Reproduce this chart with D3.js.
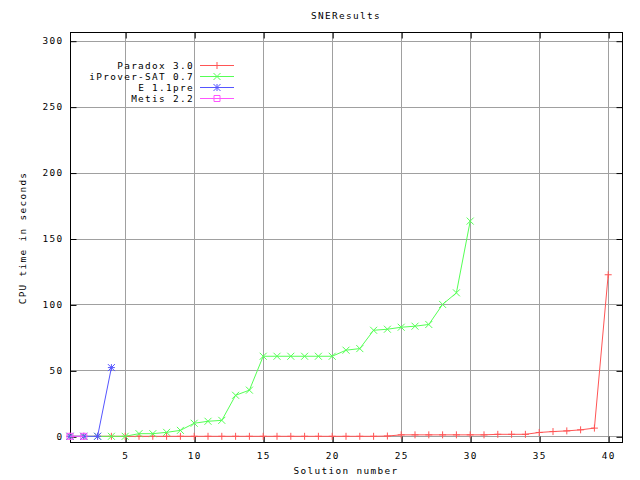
<!DOCTYPE html>
<html><head><meta charset="utf-8">
<script src="https://cdn.jsdelivr.net/npm/d3@7"></script>
<style>
body{margin:0;background:#fff;}
text{font-family:"DejaVu Sans Mono","Liberation Mono",monospace;font-size:9.4px;letter-spacing:1.34px;fill:#000;}
</style></head>
<body><svg id="c" width="640" height="480"></svg>
<script>
const title = "SNEResults";
const xLabel = "Solution number";
const yLabel = "CPU time in seconds";
const xTicks = [5,10,15,20,25,30,35,40];
const yTicks = [0,50,100,150,200,250,300];
const seriesNames = ["Paradox 3.0","iProver-SAT 0.7","E 1.1pre","Metis 2.2"];
const seriesColors = ["#ff5555","#55ff55","#5555ff","#ff55ff"];
const seriesMarkers = ["plus","cross","star","square"];
const paradox = [0,0,0,0,0,0,0,0,0,0,0,0,0,0,0,0,0,0,0,0,0,0,0,0.2,1.1,1.1,1.1,1.1,1.1,1.1,1.1,1.5,1.5,1.5,2.9,3.6,4.1,4.9,6.2,122.5];
const iprover = [0,0,0,0,0,2,2,3,4.5,9.9,11.4,12.1,31.1,35,60.7,60.7,60.7,60.7,60.7,60.7,65.3,66.5,80.4,81.2,82.7,83.5,84.8,100,108.8,163.2];
const eprover = [0,0,0,52.1];
const metis = [0,0];
const allSeries = [paradox, iprover, eprover, metis];

const svg = d3.select("#c");
const L=70,R=622,T=32,B=442;
const x = d3.scaleLinear().domain([1,41]).range([L,R]);
const y = d3.scaleLinear().domain([0,300]).range([436.3,40.7]);

// grid
const g = svg.append("g");
g.selectAll("line.gx").data(xTicks).enter().append("line")
 .attr("x1",d=>Math.round(x(d))+0.5).attr("x2",d=>Math.round(x(d))+0.5)
 .attr("y1",T).attr("y2",B).attr("stroke","#a0a0a0").attr("stroke-width",1);
g.selectAll("line.gy").data(yTicks).enter().append("line")
 .attr("y1",d=>Math.round(y(d))+0.5).attr("y2",d=>Math.round(y(d))+0.5)
 .attr("x1",L).attr("x2",R).attr("stroke","#a0a0a0").attr("stroke-width",1);

// axes
const ax = svg.append("g").attr("transform",`translate(0,${B+0.5})`)
 .call(d3.axisBottom(x).tickValues(xTicks).tickSizeInner(-6).tickSizeOuter(0).tickPadding(10));
const axT = svg.append("g").attr("transform",`translate(0,${T+0.5})`)
 .call(d3.axisTop(x).tickValues(xTicks).tickSizeInner(-6).tickSizeOuter(0).tickFormat(""));
const ay = svg.append("g").attr("transform",`translate(${L+0.5},0)`)
 .call(d3.axisLeft(y).tickValues(yTicks).tickSizeInner(-6).tickSizeOuter(0).tickPadding(7));
const ayR = svg.append("g").attr("transform",`translate(${R+0.5},0)`)
 .call(d3.axisRight(y).tickValues(yTicks).tickSizeInner(-6).tickSizeOuter(0).tickFormat(""));
[ax,axT,ay,ayR].forEach(a=>{
  a.select(".domain").remove();
  a.selectAll("line").attr("stroke","#000");
  a.attr("font-family",null).attr("font-size",null);
});
ax.selectAll(".tick line").attr("transform","translate(0.5,0)");
axT.selectAll(".tick line").attr("transform","translate(0.5,0)");
ay.selectAll(".tick line").attr("transform","translate(0,0.5)");
ayR.selectAll(".tick line").attr("transform","translate(0,0.5)");
ay.selectAll("text").attr("dy","0.35em");

// frame
svg.append("rect").attr("x",L+0.5).attr("y",T+0.5).attr("width",R-L).attr("height",B-T)
 .attr("fill","none").attr("stroke","#000").attr("stroke-width",1);

// markers
function marker(sel, type, cx, cy, color){
  const s=3.5;
  const p = sel.append("path").attr("fill","none").attr("stroke",color).attr("stroke-width",1);
  let d="";
  if(type==="plus"||type==="star") d+=`M${cx-s},${cy}H${cx+s}M${cx},${cy-s}V${cy+s}`;
  if(type==="cross"||type==="star") d+=`M${cx-s},${cy-s}L${cx+s},${cy+s}M${cx-s},${cy+s}L${cx+s},${cy-s}`;
  if(type==="square") d+=`M${cx-3},${cy-3}H${cx+3}V${cy+3}H${cx-3}Z`;
  p.attr("d",d);
}

const line = d3.line().x((d,i)=>x(i+1)).y(d=>y(d));
allSeries.forEach((s,k)=>{
  const gs = svg.append("g");
  gs.append("path").datum(s).attr("d",line).attr("fill","none")
    .attr("stroke",seriesColors[k]).attr("stroke-width",1);
  s.forEach((v,i)=>marker(gs,seriesMarkers[k],x(i+1),y(v),seriesColors[k]));
});

// legend
const lg = svg.append("g");
seriesNames.forEach((n,k)=>{
  const ly = 65.5 + k*11;
  lg.append("text").attr("x",194).attr("y",ly).attr("dy","0.35em").attr("text-anchor","end").text(n);
  lg.append("line").attr("x1",200).attr("x2",234).attr("y1",ly).attr("y2",ly)
    .attr("stroke",seriesColors[k]).attr("stroke-width",1);
  marker(lg,seriesMarkers[k],217,ly,seriesColors[k]);
});

// labels
svg.append("text").attr("x",346).attr("y",19).attr("text-anchor","middle").text(title);
svg.append("text").attr("x",346).attr("y",474).attr("text-anchor","middle").text(xLabel);
svg.append("text").attr("transform","translate(26,238) rotate(-90)").attr("text-anchor","middle").text(yLabel);
</script></body></html>
